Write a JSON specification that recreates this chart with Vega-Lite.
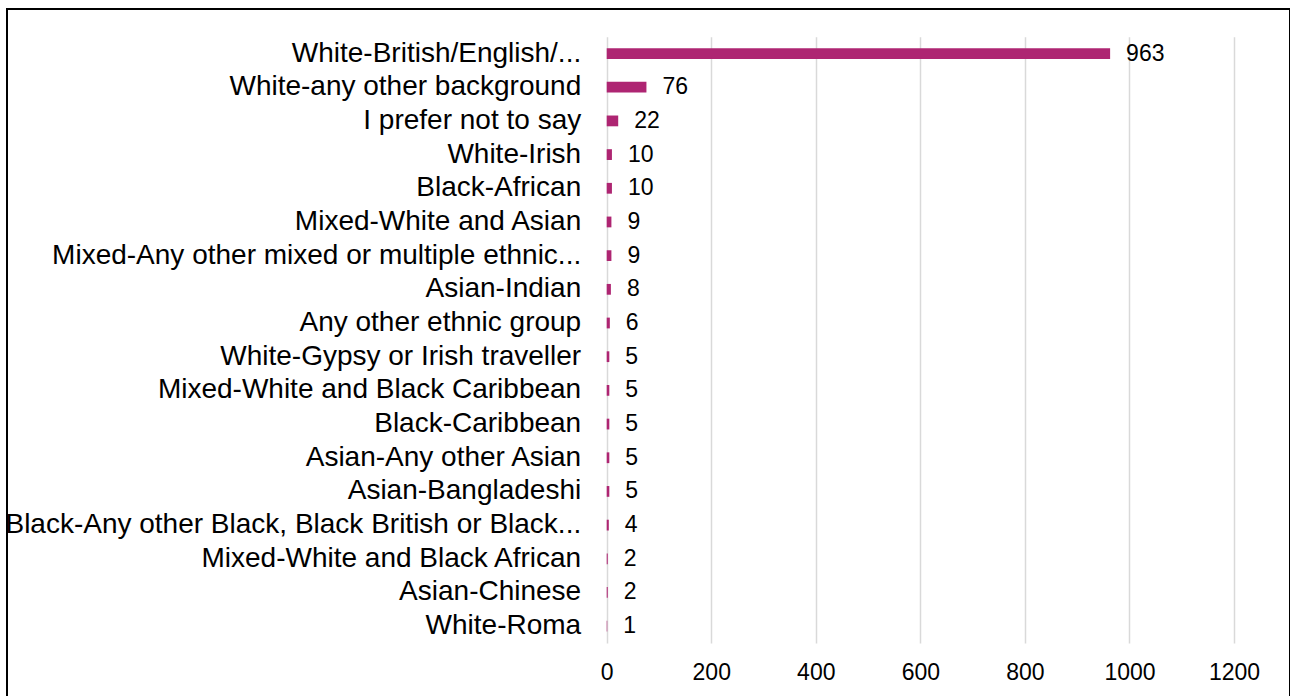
{
  "$schema": "https://vega.github.io/schema/vega-lite/v6.json",
  "autosize": "none",
  "padding": {"left": 7, "top": 9, "right": 0, "bottom": 0},
  "width": 1283,
  "height": 690,
  "background": "white",
  "config": {"view": {"stroke": "black", "strokeWidth": 2}, "font": "Liberation Sans"},
  "data": {"values": [
    {"group": "White-British/English/...", "count": 963},
    {"group": "White-any other background", "count": 76},
    {"group": "I prefer not to say", "count": 22},
    {"group": "White-Irish", "count": 10},
    {"group": "Black-African", "count": 10},
    {"group": "Mixed-White and Asian", "count": 9},
    {"group": "Mixed-Any other mixed or multiple ethnic...", "count": 9},
    {"group": "Asian-Indian", "count": 8},
    {"group": "Any other ethnic group", "count": 6},
    {"group": "White-Gypsy or Irish traveller", "count": 5},
    {"group": "Mixed-White and Black Caribbean", "count": 5},
    {"group": "Black-Caribbean", "count": 5},
    {"group": "Asian-Any other Asian", "count": 5},
    {"group": "Asian-Bangladeshi", "count": 5},
    {"group": "Black-Any other Black, Black British or Black...", "count": 4},
    {"group": "Mixed-White and Black African", "count": 2},
    {"group": "Asian-Chinese", "count": 2},
    {"group": "White-Roma", "count": 1}
  ]},
  "encoding": {
    "y": {
      "field": "group", "type": "nominal", "sort": null,
      "scale": {"range": [27.7, 634], "paddingInner": 0.68, "paddingOuter": 0.34},
      "axis": {"title": null, "orient": "left", "offset": -599.7, "domain": false, "ticks": false, "grid": false,
               "labelPadding": 26, "labelFontSize": 28, "labelColor": "black", "labelLimit": 800, "labelFont": "Liberation Sans"}
    },
    "x": {
      "field": "count", "type": "quantitative",
      "scale": {"domain": [-1147.2, 1307.1], "nice": false, "zero": false},
      "axis": {"title": null, "orient": "top", "values": [0, 200, 400, 600, 800, 1000, 1200], "format": "d",
               "grid": true, "gridColor": "#d9d9d9", "gridWidth": 1.5,
               "domain": false, "ticks": false, "tickSize": 0, "offset": -670, "labelPadding": 0, "labelBaseline": "alphabetic",
               "labelFontSize": 23, "labelColor": "black", "labelFont": "Liberation Sans"}
    }
  },
  "layer": [
    {"mark": {"type": "bar", "color": "#ae2572"}},
    {"mark": {"type": "text", "align": "left", "baseline": "middle", "dx": 16, "fontSize": 23, "color": "black", "font": "Liberation Sans"},
     "encoding": {"text": {"field": "count", "type": "quantitative"}}}
  ]
}
